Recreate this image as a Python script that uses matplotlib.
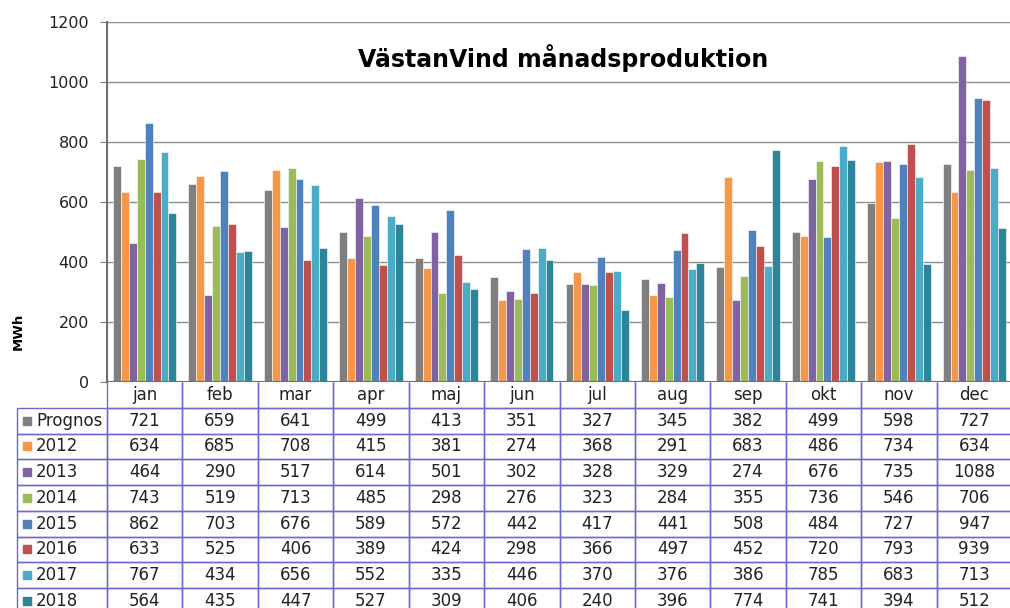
import numpy as np
import matplotlib
matplotlib.use("Agg")
import matplotlib.pyplot as plt
from matplotlib.table import Table

# Data
months = ["jan", "feb", "mar", "apr", "maj", "jun", "jul", "aug", "sep", "okt", "nov", "dec"]
series_names = ["Prognos", "2012", "2013", "2014", "2015", "2016", "2017", "2018"]
prognos = [721, 659, 641, 499, 413, 351, 327, 345, 382, 499, 598, 727]
y2012 = [634, 685, 708, 415, 381, 274, 368, 291, 683, 486, 734, 634]
y2013 = [464, 290, 517, 614, 501, 302, 328, 329, 274, 676, 735, 1088]
y2014 = [743, 519, 713, 485, 298, 276, 323, 284, 355, 736, 546, 706]
y2015 = [862, 703, 676, 589, 572, 442, 417, 441, 508, 484, 727, 947]
y2016 = [633, 525, 406, 389, 424, 298, 366, 497, 452, 720, 793, 939]
y2017 = [767, 434, 656, 552, 335, 446, 370, 376, 386, 785, 683, 713]
y2018 = [564, 435, 447, 527, 309, 406, 240, 396, 774, 741, 394, 512]
series = [prognos, y2012, y2013, y2014, y2015, y2016, y2017, y2018]
colors = ["#7f7f7f", "#f79646", "#8064a2", "#9bbb59", "#4f81bd", "#c0504d", "#4bacc6", "#2e8599"]

W, H = 1010, 608
fig = plt.figure(figsize=(W / 100, H / 100), dpi=100)
# plot area in pixels: x 107..1012, y 22..382
ax = fig.add_axes([107 / W, 1 - 382 / H, 905 / W, 360 / H])

x = np.arange(len(months))
group = 0.84
bw = group / len(series)
for i, (vals, c) in enumerate(zip(series, colors)):
    ax.bar(x - group / 2 + bw * (i + 0.5), vals, width=bw, color=c,
           edgecolor="white", linewidth=0.4, zorder=3)

ax.set_xlim(-0.5, len(months) - 0.5)
ax.set_ylim(0, 1200)
ax.set_yticks(range(0, 1201, 200))
ax.tick_params(axis="y", labelsize=11.5, length=5, pad=8, color="#7f7f7f", labelcolor="#222222")
ax.set_xticks([])
ax.yaxis.grid(True, color="#8c8c8c", linewidth=1)
ax.set_axisbelow(True)
for s in ["top", "right", "bottom"]:
    ax.spines[s].set_visible(False)
ax.spines["left"].set_color("#6f6f6f")
ax.spines["left"].set_linewidth(1.5)
ax.axhline(0, color="#6f6f6f", linewidth=1.5, zorder=4)

ax.text(0.504, 0.9, "VästanVind månadsproduktion", transform=ax.transAxes,
        ha="center", va="center", fontsize=17, fontweight="bold")
fig.text(18 / W, 1 - 331 / H, "MWh", rotation=90, ha="center", va="center",
         fontsize=9.5, fontweight="bold")

# data table under the chart
edge = "#6b6bcf"
label_w, col_w = 90, 905 / 12
row_h = 25.75
n_rows = len(series) + 1
tab_w = label_w + col_w * 12
tab_h = row_h * n_rows
tbl = Table(ax, bbox=[(17 - 107) / 905, -tab_h / 360, tab_w / 905, tab_h / 360])
tbl.auto_set_font_size(False)
cell = tbl.add_cell(0, 0, width=label_w, height=row_h, text="")
cell.visible_edges = ""
for j, m in enumerate(months):
    cell = tbl.add_cell(0, j + 1, width=col_w, height=row_h, text=m, loc="center",
                        edgecolor=edge, facecolor="none")
    cell.visible_edges = "BLR"
for i, (name, vals) in enumerate(zip(series_names, series)):
    cell = tbl.add_cell(i + 1, 0, width=label_w, height=row_h, text=name, loc="left",
                        edgecolor=edge, facecolor="none")
    cell.PAD = 0.21
    for j, v in enumerate(vals):
        tbl.add_cell(i + 1, j + 1, width=col_w, height=row_h, text=str(v), loc="center",
                     edgecolor=edge, facecolor="none")
tbl.set_fontsize(12)
for c in tbl.get_celld().values():
    c.get_text().set_color("#222222")
ax.add_table(tbl)

# legend keys in the row labels
for i, c in enumerate(colors):
    yc = -(row_h * (1.5 + i)) / 360
    ax.scatter([(26.5 - 107) / 905], [yc], marker="s", s=30, color=c,
               transform=ax.transAxes, clip_on=False, zorder=5)

fig.savefig("out.png", dpi=100)
